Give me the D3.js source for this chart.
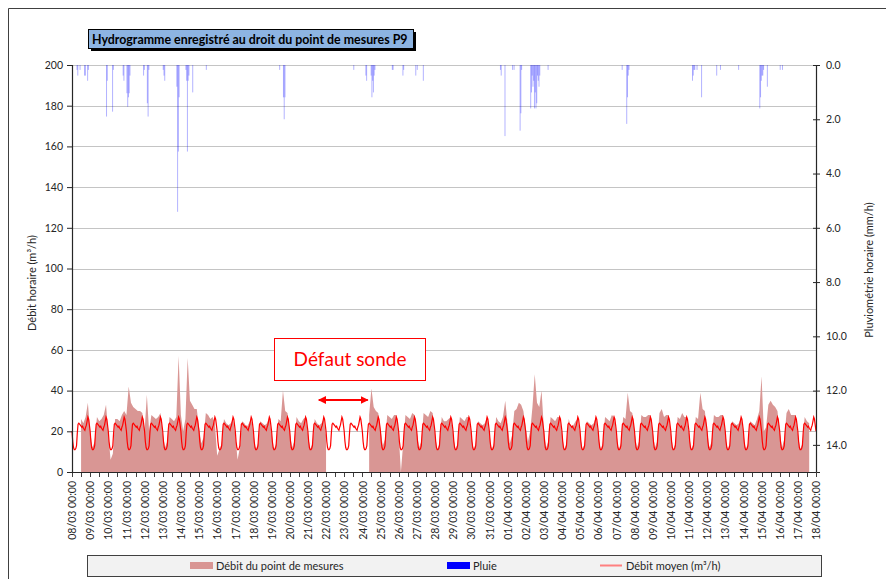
<!DOCTYPE html>
<html>
<head>
<meta charset="utf-8">
<script src="https://cdn.jsdelivr.net/npm/d3@7"></script>
<style>
  body { margin: 0; background: #fff; }
  svg text { font-family: Lato, "Open Sans", sans-serif; }
</style>
</head>
<body>
<svg id="chart" width="886" height="579"></svg>
<script>
/** Hydrogramme P9 - debit mesure, debit moyen, pluie **/

// first day of the record (year not shown on the chart)
var startDay = Date.UTC(2015, 2, 8);
var nbDays = 41;

// measured flow (m3/h), one row per day, samples at 00,03,06,09,12,15,18,21h
var measuredFlow = [
  [null, null, null, null, 26, 24, 27, 34],   // 08/03
  [20, 12, 15, 27, 25, 26, 28, 33],
  [19, 6, 9, 26, 26, 25, 28, 30],
  [28, 42, 34, 32, 31, 30, 30, 29],
  [20, 38, 20, 28, 27, 26, 27, 29],
  [19, 12, 15, 27, 26, 25, 27, 57],           // 13/03
  [28, 20, 26, 56, 35, 33, 31, 31],
  [22, 14, 17, 29, 28, 26, 27, 24],
  [8, 11, 14, 26, 24, 23, 24, 26],
  [18, 6, 12, 25, 24, 22, 24, 26],
  [19, 11, 14, 25, 24, 23, 24, 27],           // 18/03
  [19, 11, 14, 26, 25, 40, 30, 29],
  [20, 12, 15, 27, 25, 24, 26, 27],
  [19, 11, 14, 26, 24, 23, 24, 26],
  [18, null, null, null, null, null, null, null],
  [null, null, null, null, null, null, null, null], // 23/03 defaut sonde
  [null, null, null, 28, 41, 32, 30, 29],
  [21, 13, 16, 28, 27, 26, 28, 28],
  [19, 0, 14, 28, 27, 26, 29, 28],
  [20, 12, 15, 29, 28, 27, 30, 29],
  [19, 11, 14, 27, 25, 25, 26, 27],           // 28/03
  [19, 11, 14, 27, 26, 25, 27, 27],
  [19, 11, 14, 25, 24, 23, 24, 27],
  [19, 11, 14, 27, 25, 24, 27, 35],
  [24, 14, 18, 30, 31, 34, 33, 30],
  [22, 15, 20, 32, 48, 34, 32, 40],           // 02/04
  [22, 12, 15, 27, 26, 25, 27, 27],
  [19, 11, 14, 26, 22, 23, 25, 26],
  [19, 11, 14, 25, 24, 23, 24, 27],
  [19, 11, 14, 27, 26, 25, 28, 27],
  [19, 11, 14, 27, 26, 39, 30, 29],           // 07/04
  [20, 12, 15, 28, 27, 27, 28, 28],
  [20, 12, 15, 29, 31, 27, 28, 28],
  [19, 11, 14, 27, 26, 29, 27, 27],
  [19, 11, 14, 27, 26, 39, 31, 30],
  [20, 12, 15, 28, 27, 27, 28, 28],           // 12/04
  [19, 11, 14, 25, 24, 23, 24, 27],
  [19, 11, 14, 25, 24, 23, 26, 30],
  [47, 20, 22, 33, 35, 33, 32, 30],
  [20, 12, 16, 29, 31, 28, 28, 28],
  [19, 11, 14, 27, 25, 24, null, null]        // 17/04
];

// mean daily flow profile (m3/h), hours 0..23
var meanProfile = [20, 15, 12, 11, 11, 11.5, 13, 19, 23.5, 24, 23.5, 23,
                   22.5, 22, 22.5, 21.5, 21, 20.5, 22, 23, 25, 27, 26, 23];

// rain: hour since 08/03 00:00 and intensity (mm/h)
var rainHours = [6, 7, 10, 16, 17, 20, 21, 45, 46, 53, 54, 67, 68, 72, 73, 74, 75, 76,
                 94, 95, 99, 100, 101, 120, 121, 122, 138, 139, 140, 141, 150, 151, 152, 153, 154, 159, 177,
                 274, 279, 280, 281, 372, 388, 389, 395, 396, 397, 398, 399, 400, 423, 424, 437, 438, 454, 456, 464,
                 566, 567, 572, 582, 584, 592, 593, 594, 606, 607, 608, 609, 610, 611, 612, 613, 614, 615, 616, 617, 618, 629,
                 727, 733, 734, 735, 736, 820, 821, 822, 823, 826, 832, 852, 857, 881,
                 909, 910, 911, 912, 913, 914, 919, 936, 939];
var rainMm = [0.18, 0.39, 0.18, 0.39, 0.39, 0.58, 0.18, 1.9, 0.58, 1.72, 0.18, 0.39, 0.58, 1.04, 1.54, 1.19, 1.04, 0.39,
              0.39, 0.18, 1.41, 1.9, 0.18, 0.18, 0.39, 0.58, 0.8, 5.41, 3.19, 1.19, 0.18, 0.58, 3.19, 0.58, 0.39, 1.01, 0.18,
              0.18, 1.19, 2.0, 1.19, 0.18, 0.39, 0.58, 0.39, 1.19, 0.58, 1.01, 0.39, 0.18, 0.18, 0.18, 0.39, 0.18, 0.39, 0.18, 0.58,
              0.18, 0.39, 2.62, 0.18, 0.18, 2.42, 1.78, 0.18, 1.6, 1.01, 0.39, 0.8, 0.58, 1.6, 1.01, 1.6, 1.41, 0.39, 0.58, 0.8, 0.39, 0.18,
              0.18, 2.17, 1.19, 0.39, 0.18, 0.58, 0.39, 0.18, 0.18, 0.18, 1.19, 0.39, 0.18, 0.18,
              1.6, 1.19, 0.58, 0.39, 0.39, 0.18, 0.8, 0.18, 0.18];

var flowTicks = [0, 20, 40, 60, 80, 100, 120, 140, 160, 180, 200];
var rainTicks = [0, 2, 4, 6, 8, 10, 12, 14];

var HOUR = 3600 * 1000;

var svg = d3.select("#chart");
var plotLeft = 72, plotRight = 816, plotTop = 65, plotBottom = 472;

var x = d3.scaleUtc()
    .domain([new Date(startDay), new Date(startDay + nbDays * 24 * HOUR)])
    .range([plotLeft, plotRight]);
var y = d3.scaleLinear().domain([0, 200]).range([plotBottom, plotTop]);
var yRain = d3.scaleLinear().domain([0, 15]).range([plotTop, plotBottom]);

// outer frame of the chart object
svg.append("path")
    .attr("d", "M8.5,579 V8.5 H886")
    .attr("fill", "none")
    .attr("stroke", "#404040");

// gridlines
svg.append("g").selectAll("line")
    .data(flowTicks.filter(function(d){ return d > 0; }))
    .enter().append("line")
    .attr("x1", plotLeft).attr("x2", plotRight)
    .attr("y1", function(d){ return Math.round(y(d)) + 0.5; })
    .attr("y2", function(d){ return Math.round(y(d)) + 0.5; })
    .attr("stroke", "#c4c4c4")
    .attr("stroke-width", 1.2);

// measured flow points
var flowPoints = [];
measuredFlow.forEach(function(row, d) {
    row.forEach(function(v, k) {
        flowPoints.push({t: new Date(startDay + (d * 24 + k * 3) * HOUR), v: v});
    });
});

var area = d3.area()
    .defined(function(d){ return d.v != null; })
    .x(function(d){ return x(d.t); })
    .y0(y(0))
    .y1(function(d){ return y(d.v); });

svg.append("path")
    .datum(flowPoints)
    .attr("d", area)
    .attr("fill", "#d99694");

// rain bars hanging from the top
svg.append("g").selectAll("rect")
    .data(rainHours.map(function(h, i){ return {t: new Date(startDay + h * HOUR), v: rainMm[i]}; }))
    .enter().append("rect")
    .attr("x", function(d){ return x(d.t); })
    .attr("y", yRain(0))
    .attr("width", 1)
    .attr("height", function(d){ return yRain(d.v) - yRain(0); })
    .attr("fill", "#0000ff")
    .attr("fill-opacity", 0.3);

// mean flow line
var meanPoints = [];
for (var h = 0; h <= nbDays * 24; h++) {
    meanPoints.push({t: new Date(startDay + h * HOUR), v: meanProfile[h % 24]});
}
var line = d3.line()
    .x(function(d){ return x(d.t); })
    .y(function(d){ return y(d.v); });

svg.append("path")
    .datum(meanPoints)
    .attr("d", line)
    .attr("fill", "none")
    .attr("stroke", "#ff0000")
    .attr("stroke-width", 1.2);

// axes
var axisLeft = svg.append("g")
    .attr("transform", "translate(" + plotLeft + ",0)")
    .call(d3.axisLeft(y).tickValues(flowTicks).tickSize(5).tickPadding(4));

var axisRight = svg.append("g")
    .attr("transform", "translate(" + plotRight + ",0)")
    .call(d3.axisRight(yRain).tickValues(rainTicks).tickFormat(d3.format(".1f")).tickSize(4).tickPadding(6));
axisRight.selectAll(".tick line").attr("x1", -3);

var endTime = new Date(startDay + (nbDays * 24 + 1) * HOUR);
var days = d3.utcDay.range(x.domain()[0], endTime);
var halfDays = d3.utcHour.every(12).range(x.domain()[0], endTime);

svg.append("g").selectAll("line")
    .data(halfDays)
    .enter().append("line")
    .attr("x1", function(d){ return Math.round(x(d)) + 0.5; })
    .attr("x2", function(d){ return Math.round(x(d)) + 0.5; })
    .attr("y1", plotBottom).attr("y2", plotBottom + 5)
    .attr("stroke", "#404040");

var axisBottom = svg.append("g")
    .attr("transform", "translate(0," + plotBottom + ")")
    .call(d3.axisBottom(x).tickValues(days).tickSize(0).tickFormat(d3.utcFormat("%d/%m %H:%M")));
axisBottom.selectAll("text")
    .attr("transform", "rotate(-90)")
    .attr("x", -9).attr("y", 0).attr("dy", "0.35em")
    .style("text-anchor", "end");

[axisLeft, axisRight, axisBottom].forEach(function(g) {
    g.select(".domain").attr("stroke", "#262626").attr("stroke-width", 1.2);
    g.selectAll(".tick line").attr("stroke", "#262626");
    g.selectAll("text").attr("font-size", 10.5).attr("fill", "#262626")
        .style("font-family", "Lato, 'Open Sans', sans-serif");
});
axisBottom.select(".domain").attr("d", "M" + plotLeft + ",0.5H" + plotRight);

// axis titles
svg.append("text")
    .attr("transform", "translate(36,283) rotate(-90)")
    .attr("text-anchor", "middle")
    .attr("font-size", 11).attr("fill", "#262626")
    .text("Débit horaire (m³/h)");
svg.append("text")
    .attr("transform", "translate(873,270) rotate(-90)")
    .attr("text-anchor", "middle")
    .attr("font-size", 11).attr("fill", "#262626")
    .text("Pluviométrie horaire (mm/h)");

// title box
svg.append("rect")
    .attr("x", 91).attr("y", 32).attr("width", 325).attr("height", 19)
    .attr("fill", "#000");
svg.append("rect")
    .attr("x", 88.5).attr("y", 29.5).attr("width", 325).attr("height", 19)
    .attr("fill", "#8db4e2").attr("stroke", "#000");
svg.append("text")
    .attr("x", 92).attr("y", 43.5)
    .attr("font-size", 12.4).attr("font-weight", "bold").attr("fill", "#000")
    .text("Hydrogramme enregistré au droit du point de mesures P9");

// annotation "Defaut sonde"
svg.append("rect")
    .attr("x", 274.5).attr("y", 338.5).attr("width", 151).attr("height", 42)
    .attr("fill", "#fff").attr("stroke", "#ff0000");
svg.append("text")
    .attr("x", 350).attr("y", 366)
    .attr("text-anchor", "middle")
    .attr("font-size", 19).attr("fill", "#ff0000")
    .text("Défaut sonde");

var defs = svg.append("defs");
defs.append("marker")
    .attr("id", "arrow")
    .attr("viewBox", "0 0 10 10")
    .attr("refX", 9).attr("refY", 5)
    .attr("markerWidth", 4).attr("markerHeight", 4)
    .attr("orient", "auto-start-reverse")
    .append("path").attr("d", "M0,0 L10,5 L0,10 z").attr("fill", "#ff0000");

svg.append("line")
    .attr("x1", x(new Date(startDay + 13.6 * 24 * HOUR))).attr("x2", x(new Date(startDay + 16.3 * 24 * HOUR)))
    .attr("y1", 400).attr("y2", 400)
    .attr("stroke", "#ff0000").attr("stroke-width", 2)
    .attr("marker-start", "url(#arrow)")
    .attr("marker-end", "url(#arrow)");

// legend
var legend = svg.append("g");
legend.append("rect")
    .attr("x", 87.5).attr("y", 555.5).attr("width", 734).attr("height", 21)
    .attr("fill", "#f2f2f2").attr("stroke", "#404040");
legend.append("rect")
    .attr("x", 190).attr("y", 562).attr("width", 23).attr("height", 7)
    .attr("fill", "#d99694");
legend.append("text").attr("x", 216).attr("y", 569.5)
    .attr("font-size", 11).attr("fill", "#262626").text("Débit du point de mesures");
legend.append("rect")
    .attr("x", 447).attr("y", 562).attr("width", 23).attr("height", 7)
    .attr("fill", "#0000ff");
legend.append("text").attr("x", 473).attr("y", 569.5)
    .attr("font-size", 11).attr("fill", "#262626").text("Pluie");
legend.append("line")
    .attr("x1", 600).attr("x2", 622).attr("y1", 565.5).attr("y2", 565.5)
    .attr("stroke", "#ff8080").attr("stroke-width", 2);
legend.append("text").attr("x", 626).attr("y", 569.5)
    .attr("font-size", 11).attr("fill", "#262626").text("Débit moyen (m³/h)");
</script>
</body>
</html>
